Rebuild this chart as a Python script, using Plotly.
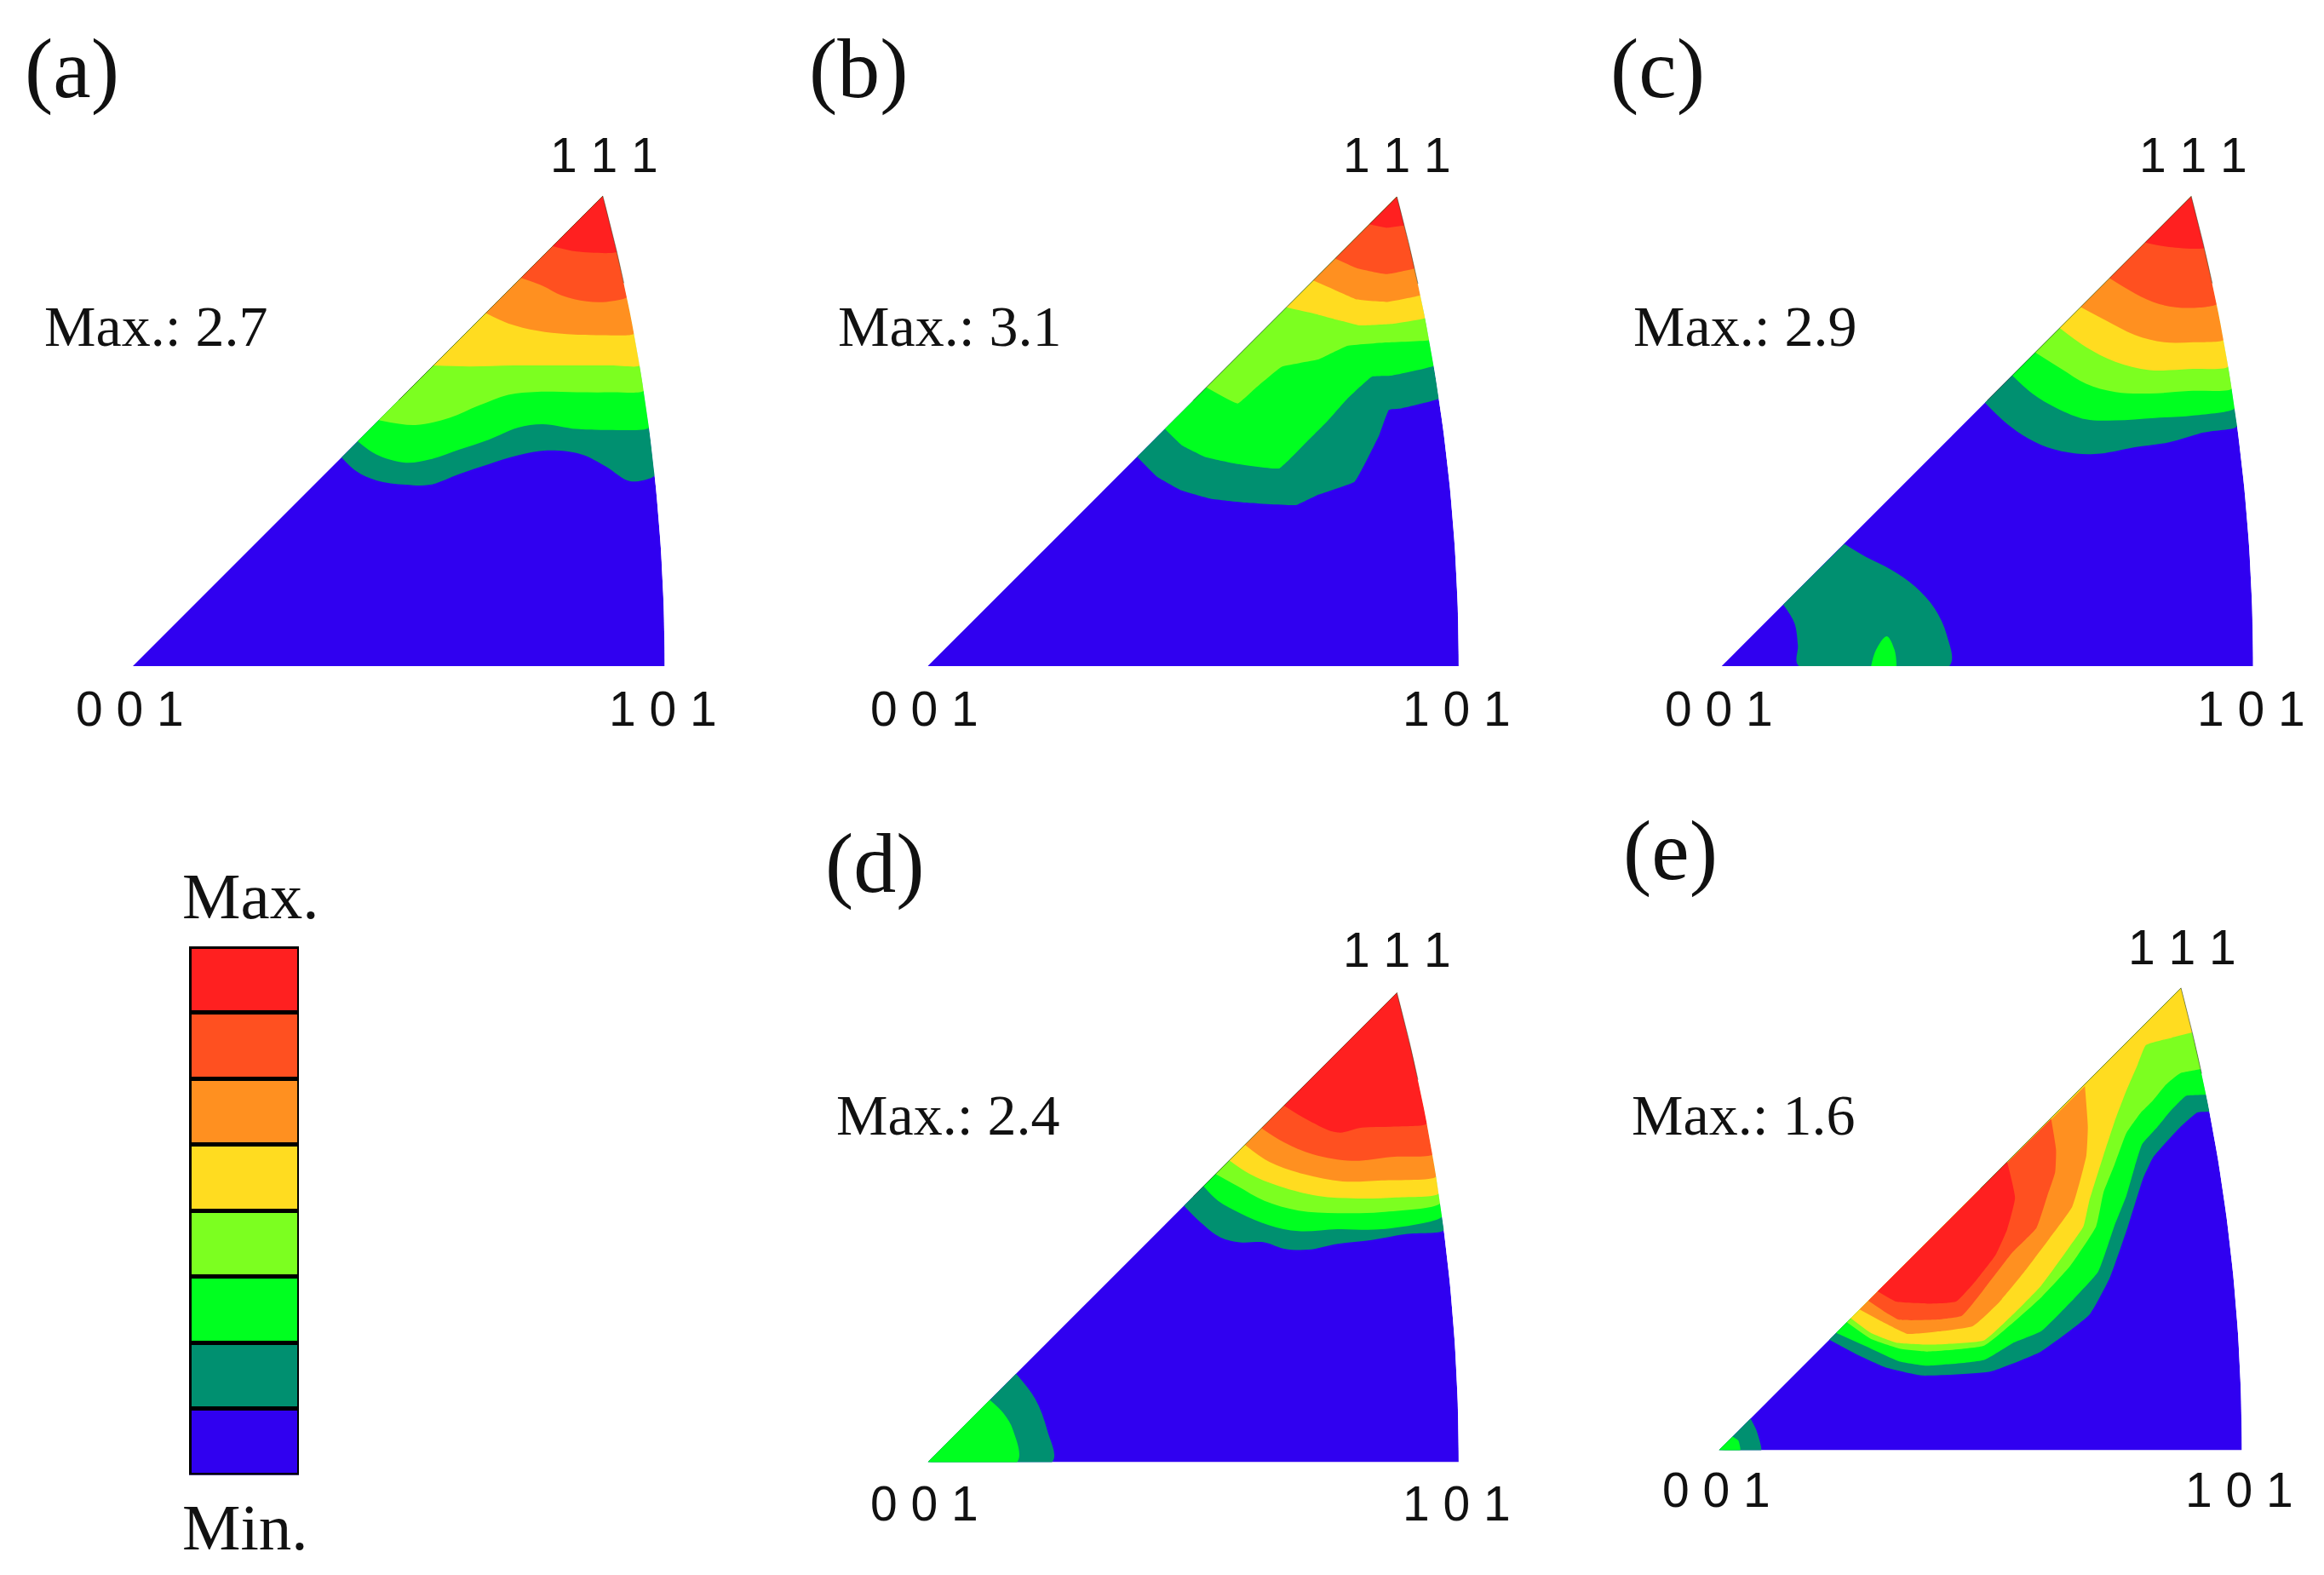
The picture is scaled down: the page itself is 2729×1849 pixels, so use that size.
import math
import plotly.graph_objects as go

# Band colours, lowest to highest
LEVEL_NAMES = ["L1", "L2", "L3", "L4", "L5", "L6", "L7", "L8"]
LEVEL_COLORS = ["#3000F0", "#009070", "#00FF20", "#7CFF20", "#FFDC20", "#FF9020", "#FF5020", "#FF2020"]
LEGEND_VALUES = [1, 1, 1, 1, 1, 1, 1, 1]

# Contour boundaries; unit = 1/1088 of the 001-101 edge
A2 = [(427,427),(458,398),(498,380),(558,371),(608,371),(668,393),(728,413),(788,431),(848,441),(918,433),(968,408),(1018,378),(1065,390)]
A3 = [(460,460),(498,433),(558,416),(608,423),(668,443),(728,463),(788,488),(838,495),(908,485),(968,483),(1056,488)]
A4 = [(503,503),(578,493),(648,508),(708,533),(768,555),(828,561),(908,560),(978,560),(1043,563)]
A5 = [(615,615),(688,613),(778,615),(878,615),(978,615),(1033,615)]
A6 = [(722,722),(768,701),(828,686),(888,679),(958,677),(1023,680)]
A7 = [(794,794),(838,778),(878,758),(928,746),(968,745),(1008,755)]
A8 = [(859,859),(908,848),(986,847)]

B2 = [(429,429),(470,388),(520,360),(580,343),(650,335),(755,330),(800,351),(875,378),(895,413),(925,473),(945,525),(970,528),(1040,548)]
B3 = [(486,486),(520,453),(570,428),(630,415),(720,405),(770,453),(820,503),(860,548),(910,593),(950,595),(1035,615)]
B4 = [(571,571),(635,538),(670,568),(725,613),(800,628),(860,656),(940,663),(1025,668)]
B5 = [(735,735),(800,720),(845,708),(885,698),(950,701),(1015,713)]
B6 = [(790,790),(840,768),(880,751),(940,746),(1007,760)]
B7 = [(835,835),(880,815),(940,803),(997,815)]
B8 = [(905,905),(940,898),(973,903)]

C2 = [(539,539),(576,503),(616,473),(666,448),(726,435),(776,435),(846,448),(916,458),(986,478),(1053,491)]
C3 = [(595,595),(636,558),(686,528),(746,505),(806,503),(886,508),(966,513),(1048,528)]
C4 = [(642,642),(696,608),(746,578),(806,561),(876,558),(956,563),(1041,568)]
C5 = [(692,692),(746,653),(806,623),(876,606),(956,608),(1034,613)]
C6 = [(735,735),(786,708),(846,678),(906,663),(966,663),(1024,668)]
C7 = [(794,794),(846,763),(896,741),(956,733),(1006,741)]
C8 = [(867,867),(916,858),(979,856)]
C_LOW_TEAL = [(126,126),(149,88),(156,43),(158,0),(466,0),(461,63),(436,118),(396,163),(346,198),(296,223),(251,250)]
C_LOW_GREEN = [(306,0),(316,33),(338,61),(354,33),(358,0)]

D2 = [(525,525),(560,490),(600,460),(640,450),(690,450),(730,437),(780,435),(840,447),(910,455),(980,467),(1055,475)]
D3 = [(565,565),(595,535),(640,510),(700,485),(760,473),(840,477),(930,477),(1052,503)]
D4 = [(590,590),(635,565),(690,535),(760,515),(840,510),(930,512),(1048,530)]
D5 = [(618,618),(660,590),(720,565),(800,545),(880,540),(960,542),(1042,550)]
D6 = [(650,650),(700,615),(770,590),(850,575),(930,577),(1038,585)]
D7 = [(684,684),(730,655),(790,630),(870,617),(950,625),(1032,630)]
D8 = [(730,730),(780,700),(840,675),(890,685),(950,687),(1022,693)]
D_LOW_TEAL = [(0,0),(255,0),(245,65),(220,130),(181,181)]
D_LOW_GREEN = [(0,0),(183,0),(175,65),(155,100),(127,127)]

# Panel e; unit = 1/1070 of its edge
E2 = [(226,226),(282,196),(340,170),(415,153),(555,161),(659,202),(758,277),(800,353),(837,458),(868,556),(889,600),(944,661),(979,691),(1002,693)]
E3 = [(240,240),(311,208),(369,182),(427,173),(543,185),(601,219),(659,243),(718,301),(776,365),(809,458),(834,521),(851,580),(866,626),(897,661),(926,696),(956,725),(997,728)]
E4 = [(262,262),(311,228),(370,208),(427,202),(543,214),(601,260),(659,312),(718,376),(772,458),(787,527),(810,585),(834,649),(863,690),(886,713),(915,748),(944,771),(990,780)]
E5 = [(270,270),(311,240),(363,220),(427,216),(543,225),(601,277),(659,336),(718,417),(746,458),(758,510),(787,603),(810,673),(834,736),(857,789),(874,829),(927,844),(985,855)]
E6 = [(288,288),(340,260),(386,238),(450,243),(520,254),(572,301),(625,365),(677,434),(723,498),(752,603),(755,661),(749,745)]
E7 = [(306,306),(340,283),(369,267),(439,267),(497,275),(543,330),(601,405),(650,455),(672,520),(688,568),(690,614),(680,678)]
E8 = [(325,325),(363,304),(427,300),(485,304),(526,347),(566,399),(590,452),(606,516),(590,590)]
E_LOW_TEAL = [(0,0),(87,0),(77,41),(65,65)]
E_LOW_GREEN = [(0,0),(44,0),(40,20),(28,28)]

PANEL_LETTERS = ["(a)", "(b)", "(c)", "(d)", "(e)"]
MAX_VALUES = ["2.7", "3.1", "2.9", "2.4", "1.6"]
POLE_LABELS = ["1 1 1", "0 0 1", "1 0 1"]

WIDTH, HEIGHT = 2729, 1849
FIG_KW = dict(width=WIDTH, height=HEIGHT)

# Panel geometry: left px, right px, base px, edge unit count, spline smoothing
GEOM = {
    "a": (156.0, 780.5, 782.0, 1088, 1.0),
    "b": (1089.4, 1712.9, 782.0, 1088, 0.3),
    "c": (2021.7, 2645.7, 782.0, 1088, 1.0),
    "d": (1089.4, 1712.9, 1716.4, 1088, 1.0),
    "e": (2018.3, 2632.5, 1702.6, 1070, 0.4),
}

# (boundary, colour index, closes on: arc or itself)
BANDS = {
    "a": [(A2,1,"arc"),(A3,2,"arc"),(A4,3,"arc"),(A5,4,"arc"),(A6,5,"arc"),(A7,6,"arc"),(A8,7,"arc")],
    "b": [(B2,1,"arc"),(B3,2,"arc"),(B4,3,"arc"),(B5,4,"arc"),(B6,5,"arc"),(B7,6,"arc"),(B8,7,"arc")],
    "c": [(C2,1,"arc"),(C3,2,"arc"),(C4,3,"arc"),(C5,4,"arc"),(C6,5,"arc"),(C7,6,"arc"),(C8,7,"arc"),
          (C_LOW_TEAL,1,"self"),(C_LOW_GREEN,2,"self")],
    "d": [(D2,1,"arc"),(D3,2,"arc"),(D4,3,"arc"),(D5,4,"arc"),(D6,5,"arc"),(D7,6,"arc"),(D8,7,"arc"),
          (D_LOW_TEAL,1,"self"),(D_LOW_GREEN,2,"self")],
    "e": [(E2,1,"arc"),(E3,2,"arc"),(E4,3,"arc"),(E5,4,"arc"),(E6,5,"self"),(E7,6,"self"),(E8,7,"self"),
          (E_LOW_TEAL,1,"self"),(E_LOW_GREEN,2,"self")],
}


def arc_geometry(w):
    c = -(1 + math.sqrt(2)) * w
    r = (2 + math.sqrt(2)) * w
    # 111 pole: where the y=x edge meets the 101-111 great circle
    ax = (c + math.sqrt(2 * r * r - c * c)) / 2
    return c, r, ax


def arc_from(w, y0, n=40):
    """Points on the great-circle edge from height y0 up to the 111 pole."""
    c, r, ax = arc_geometry(w)
    t0 = math.asin(y0 / r)
    t1 = math.atan2(ax, ax - c)
    return [(c + r * math.cos(t0 + (t1 - t0) * i / n), r * math.sin(t0 + (t1 - t0) * i / n)) for i in range(n + 1)]


def band_polygon(w, pts, closes):
    if closes == "arc":
        return pts[:-1] + arc_from(w, pts[-1][1])
    return pts


def area(xr, yr, pts, color, smoothing=None):
    line = dict(width=0)
    if smoothing:
        line.update(shape="spline", smoothing=smoothing)
    return go.Scatter(x=[p[0] for p in pts], y=[p[1] for p in pts], fill="toself", fillcolor=color,
                      mode="lines", line=line, xaxis=xr, yaxis=yr, showlegend=False, hoverinfo="skip")


fig = go.Figure()
annotations = []
layout = {}


def px_x(x):
    return x / WIDTH


def px_y(y):
    return 1 - y / HEIGHT


for i, key in enumerate(GEOM):
    left, right, base, w, smooth = GEOM[key]
    n = i + 1
    xname, yname = f"xaxis{n}", f"yaxis{n}"
    xr, yr = f"x{n}", f"y{n}"
    edge_px = right - left
    layout[xname] = dict(domain=[px_x(left), px_x(right)], range=[0, w], visible=False, anchor=yr, fixedrange=True)
    layout[yname] = dict(domain=[px_y(base), px_y(base - edge_px)], range=[0, w], visible=False, anchor=xr, fixedrange=True)
    arc = arc_from(w, 0)
    fig.add_trace(area(xr, yr, [(0, 0)] + arc, LEVEL_COLORS[0]))
    for pts, level, closes in BANDS[key]:
        fig.add_trace(area(xr, yr, band_polygon(w, pts, closes), LEVEL_COLORS[level], smooth))
    # keep rounded band ends inside the great-circle edge
    apex = arc[-1]
    fig.add_trace(area(xr, yr, arc + [(w, apex[1]), (w, 0)], "#FFFFFF"))
    # hairline along the upper part of the two edges
    start = 0.5 * w
    upper = [(start, start)] + [apex] + list(reversed(arc_from(w, 0.72 * w)))
    fig.add_trace(go.Scatter(x=[p[0] for p in upper], y=[p[1] for p in upper], mode="lines",
                             line=dict(color="rgba(40,40,20,0.5)", width=1), xaxis=xr, yaxis=yr,
                             showlegend=False, hoverinfo="skip"))

# Legend column: eight equal stacked cells
for v, name, col in zip(LEGEND_VALUES, LEVEL_NAMES, LEVEL_COLORS):
    fig.add_trace(go.Bar(x=[0], y=[v], name=name, width=1, marker=dict(color=col, line=dict(color="#000000", width=5)),
                         xaxis="x6", yaxis="y6", showlegend=False, hoverinfo="skip"))
layout["xaxis6"] = dict(domain=[px_x(222), px_x(351)], range=[-0.5, 0.5], visible=False, anchor="y6", fixedrange=True)
layout["yaxis6"] = dict(domain=[px_y(1731.5), px_y(1111)], range=[0, 8], visible=False, anchor="x6", fixedrange=True)


def text(x, y, s, size, family, anchor="center"):
    annotations.append(dict(x=px_x(x), y=px_y(y), xref="paper", yref="paper", text=s, showarrow=False,
                            xanchor=anchor, yanchor="middle", font=dict(family=family, size=size, color="#111111")))


SERIF = "Liberation Serif"
SANS = "Liberation Sans"
letter_pos = [(27, 81), (948, 81), (1889, 81), (967, 1013), (1904, 998)]
max_pos = [(49.5, 383), (981.5, 383), (1915.5, 383), (980, 1309), (1914, 1309)]
pole_pos = [
    [(710, 182.5), (152, 832), (778, 832)],
    [(1640.5, 182.5), (1085, 832), (1710.5, 832)],
    [(2575, 182.5), (2018, 832), (2643, 832)],
    [(1640.5, 1115), (1085, 1765), (1710.5, 1765)],
    [(2562, 1112), (2015, 1749), (2629, 1749)],
]
for j in range(5):
    text(*letter_pos[j], PANEL_LETTERS[j], 100, SERIF, "left")
    text(*max_pos[j], "Max.: " + MAX_VALUES[j], 68, SERIF, "left")
    for (x, y), s in zip(pole_pos[j], POLE_LABELS):
        text(x, y, s, 57, SANS)
text(212, 1052, "Max.", 77, SERIF, "left")
text(212, 1793, "Min.", 77, SERIF, "left")

fig.update_layout(**FIG_KW, margin=dict(l=0, r=0, t=0, b=0), paper_bgcolor="white", plot_bgcolor="white",
                  barmode="stack", showlegend=False, annotations=annotations, **layout)
fig.write_html("out.html", config={"displayModeBar": False},
               post_script="document.body.style.margin='0';document.documentElement.style.overflow='hidden';")
